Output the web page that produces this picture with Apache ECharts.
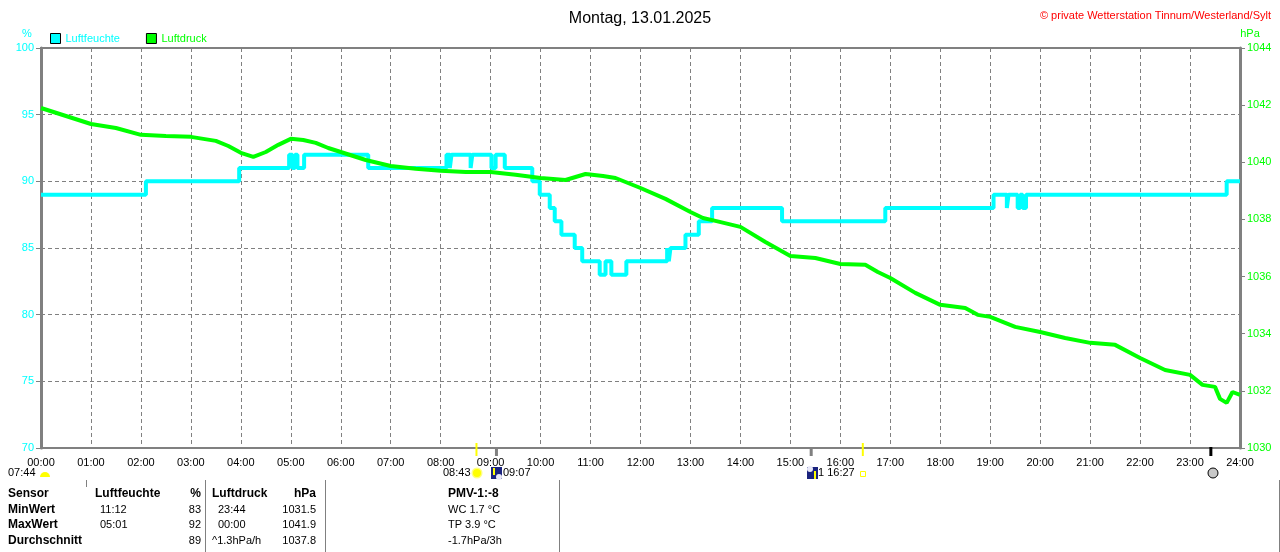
<!DOCTYPE html>
<html lang="de">
<head>
    <meta charset="UTF-8">
    <title>Luftfeuchte / Luftdruck</title>
    <script src="https://cdn.jsdelivr.net/npm/echarts@6/dist/echarts.min.js"></script>
    <style>
        html, body { margin: 0; padding: 0; background: #fff; }
    </style>
</head>
<body>
<div id="main" style="width: 1280px; height: 552px;"></div>
</body>
<script>
    // ---- Daten ----
    var hourLabels = ['00:00', '01:00', '02:00', '03:00', '04:00', '05:00', '06:00', '07:00', '08:00', '09:00',
        '10:00', '11:00', '12:00', '13:00', '14:00', '15:00', '16:00', '17:00', '18:00', '19:00',
        '20:00', '21:00', '22:00', '23:00', '24:00']
    var humTicks = [70, 75, 80, 85, 90, 95, 100]
    var pressTicks = [1030, 1032, 1034, 1036, 1038, 1040, 1042, 1044]

    // Luftfeuchte: Minute des Tages, ab der der Wert gilt
    var humMinutes = [0, 126, 238, 298, 302, 305, 308, 316, 393, 487, 491, 493, 516, 518, 541, 546, 557, 590, 599,
        611, 617, 625, 641, 650, 671, 678, 685, 703, 752, 754, 756, 774, 790, 806, 890, 1014, 1144, 1160, 1162,
        1173, 1176, 1179, 1183, 1424, 1440]
    var humValues = [89, 90, 91, 92, 91, 92, 91, 92, 91, 92, 91, 92, 91, 92, 91, 92, 91, 90, 89,
        88, 87, 86, 85, 84, 83, 84, 83, 84, 85, 84, 85, 86, 87, 88, 87, 88, 89, 88, 89,
        88, 89, 88, 89, 90, 90]

    // Luftdruck
    var pressMinutes = [0, 30, 60, 90, 120, 150, 180, 210, 225, 240, 255, 270, 285, 300, 315, 330, 345, 360, 390, 420,
        450, 480, 510, 540, 570, 600, 630, 654, 675, 690, 720, 750, 780, 795, 810, 840, 870, 900, 930, 960,
        990, 1005, 1020, 1050, 1080, 1110, 1125, 1140, 1170, 1200, 1230, 1260, 1290, 1320, 1350, 1380, 1395, 1410,
        1416, 1424, 1431, 1440]
    var pressValues = [1041.90, 1041.62, 1041.34, 1041.20, 1040.96, 1040.92, 1040.89, 1040.75, 1040.57, 1040.33,
        1040.19, 1040.36, 1040.61, 1040.82, 1040.78, 1040.68, 1040.50, 1040.36, 1040.08, 1039.87,
        1039.77, 1039.70, 1039.66, 1039.66, 1039.56, 1039.45, 1039.38, 1039.59, 1039.52, 1039.45,
        1039.10, 1038.72, 1038.26, 1038.05, 1037.95, 1037.74, 1037.21, 1036.72, 1036.65, 1036.44,
        1036.41, 1036.16, 1035.95, 1035.43, 1035.01, 1034.90, 1034.66, 1034.59, 1034.24, 1034.06,
        1033.85, 1033.68, 1033.61, 1033.15, 1032.73, 1032.56, 1032.21, 1032.14, 1031.72, 1031.58,
        1031.96, 1031.86]

    // Sonne / Mond Markierungen (Minute, Farbe)
    var astroMinutes = [523, 547, 925, 987, 1405]
    var astroColors = ['#ffff00', '#808080', '#808080', '#ffff00', '#000000']

    // Tabelle
    var tableRows = ['Sensor', 'MinWert', 'MaxWert', 'Durchschnitt']
    var humTimes = ['', '11:12', '05:01', '']
    var humStats = ['%', '83', '92', '89']
    var pressTimes = ['Luftdruck', '23:44', '00:00', '^1.3hPa/h']
    var pressStats = ['hPa', '1031.5', '1041.9', '1037.8']
    var pmvLines = ['PMV-1:-8', 'WC 1.7 °C', 'TP 3.9 °C', '-1.7hPa/3h']

    var CYAN = '#00ffff'
    var GREEN = '#00ff00'
    var GRAY = '#808080'
    var FONT = 'Liberation Sans'

    function pairs(xs, ys) {
        var out = []
        for (var i = 0; i < xs.length; i++) out.push([xs[i], ys[i]])
        return out
    }

    var myChart = echarts.init(document.getElementById('main'))

    var option = {
        animation: false,
        backgroundColor: '#fff',
        textStyle: { fontFamily: FONT },
        title: [
            {
                text: 'Montag, 13.01.2025',
                left: 'center',
                top: 6,
                textStyle: { color: '#000', fontSize: 16, fontWeight: 'normal', fontFamily: FONT }
            },
            {
                text: '© private Wetterstation Tinnum/Westerland/Sylt',
                right: 4,
                top: 5,
                textStyle: { color: '#ff0000', fontSize: 11, fontWeight: 'normal', fontFamily: FONT }
            }
        ],
        legend: {
            left: 50,
            top: 33,
            padding: 0,
            itemWidth: 10,
            itemHeight: 10,
            itemGap: 26,
            icon: 'rect',
            itemStyle: { borderColor: '#000', borderWidth: 1 },
            textStyle: { fontSize: 11, fontFamily: FONT },
            data: [
                { name: 'Luftfeuchte', textStyle: { color: CYAN } },
                { name: 'Luftdruck', textStyle: { color: GREEN } }
            ]
        },
        grid: {
            left: 41,
            right: 40,
            top: 48,
            bottom: 104,
            show: true,
            borderColor: GRAY,
            borderWidth: 2,
            containLabel: false
        },
        xAxis: {
            type: 'value',
            min: 0,
            max: 1440,
            interval: 60,
            axisLine: { show: true, lineStyle: { color: GRAY, width: 2 } },
            axisTick: { show: false },
            axisLabel: {
                color: '#000',
                fontSize: 11,
                fontFamily: FONT,
                margin: 9,
                formatter: function (v) { return hourLabels[Math.round(v / 60)] }
            },
            splitLine: { show: true, lineStyle: { color: GRAY, width: 1, type: [4, 3] } }
        },
        yAxis: [
            {
                type: 'value',
                position: 'left',
                min: humTicks[0],
                max: humTicks[humTicks.length - 1],
                interval: 5,
                axisLine: { show: true, lineStyle: { color: GRAY, width: 3 } },
                axisTick: { show: true, length: 5, lineStyle: { color: GRAY, width: 1 } },
                axisLabel: { color: CYAN, fontSize: 11, fontFamily: FONT, margin: 7 },
                splitLine: { show: true, lineStyle: { color: GRAY, width: 1, type: [4, 3] } }
            },
            {
                type: 'value',
                position: 'right',
                min: pressTicks[0],
                max: pressTicks[pressTicks.length - 1],
                interval: 2,
                axisLine: { show: true, lineStyle: { color: GRAY, width: 3 } },
                axisTick: { show: true, length: 5, lineStyle: { color: GRAY, width: 1 } },
                axisLabel: {
                    color: GREEN, fontSize: 11, fontFamily: FONT, margin: 7,
                    formatter: function (v) { return String(v) }
                },
                splitLine: { show: false }
            }
        ],
        series: [
            {
                name: 'Luftfeuchte',
                type: 'line',
                yAxisIndex: 0,
                step: 'end',
                showSymbol: false,
                itemStyle: { color: CYAN },
                lineStyle: { color: CYAN, width: 4 },
                data: pairs(humMinutes, humValues)
            },
            {
                name: 'Luftdruck',
                type: 'line',
                yAxisIndex: 1,
                showSymbol: false,
                itemStyle: { color: GREEN },
                lineStyle: { color: GREEN, width: 4 },
                data: pairs(pressMinutes, pressValues)
            }
        ]
    };
    myChart.setOption(option);

    // ---- Zusatz: Einheiten, Sonne/Mond, Tabelle ----
    var g = []
    function txt(x, y, s, opt) {
        opt = opt || {}
        g.push({
            type: 'text', x: x, y: y, z: 10,
            style: {
                text: s, fill: opt.color || '#000', fontSize: opt.size || 11,
                fontFamily: FONT, fontWeight: opt.bold ? 'bold' : 'normal',
                align: opt.align || 'left', verticalAlign: 'middle'
            }
        })
    }
    function line(x1, y1, x2, y2, color, w) {
        g.push({ type: 'line', z: 10, shape: { x1: x1, y1: y1, x2: x2, y2: y2 }, style: { stroke: color, lineWidth: w || 1 } })
    }

    txt(27, 34, '%', { color: CYAN, align: 'center' })
    txt(1250, 34, 'hPa', { color: GREEN, align: 'center' })

    var yAxisPx = myChart.convertToPixel({ yAxisIndex: 0 }, 70)
    for (var i = 0; i < astroMinutes.length; i++) {
        var px = myChart.convertToPixel({ xAxisIndex: 0 }, astroMinutes[i])
        var isSun = astroColors[i] === '#ffff00'
        line(px, yAxisPx - (isSun ? 5 : 1), px, yAxisPx + 8, astroColors[i], isSun ? 2 : 3)
    }

    // Symbole unter der Achse
    txt(8, 473, '07:44')
    g.push({ type: 'sector', z: 10, shape: { cx: 45, cy: 477, r0: 0, r: 5, startAngle: Math.PI, endAngle: 2 * Math.PI }, style: { fill: '#ffff00' } })
    txt(443, 473, '08:43')
    g.push({ type: 'circle', z: 10, shape: { cx: 477, cy: 473, r: 5.5 }, style: { fill: '#ffff80' } })
    g.push({ type: 'circle', z: 11, shape: { cx: 477, cy: 473, r: 4 }, style: { fill: '#ffff00' } })
    g.push({ type: 'rect', z: 10, shape: { x: 491, y: 467, width: 11, height: 12 }, style: { fill: '#1a237e' } })
    g.push({ type: 'circle', z: 11, shape: { cx: 499, cy: 477, r: 3 }, style: { fill: '#e8e8f8' } })
    line(494, 468, 494, 475, '#ffff00', 2)
    txt(503, 473, '09:07')
    g.push({ type: 'rect', z: 10, shape: { x: 807, y: 467, width: 11, height: 12 }, style: { fill: '#1a237e' } })
    g.push({ type: 'circle', z: 11, shape: { cx: 810, cy: 469, r: 3 }, style: { fill: '#e8e8f8' } })
    line(815, 471, 815, 479, '#ffff00', 2)
    txt(818, 473, '1 16:27')
    g.push({ type: 'rect', z: 10, shape: { x: 860.5, y: 471.5, width: 5, height: 5 }, style: { fill: '#fff', stroke: '#ffff00', lineWidth: 1 } })
    g.push({ type: 'circle', z: 10, shape: { cx: 1213, cy: 473, r: 5 }, style: { fill: '#c8c8c8', stroke: '#000', lineWidth: 1 } })

    // Tabelle
    var rowY = [494, 510, 525, 541]
    for (var r = 0; r < 4; r++) {
        txt(8, rowY[r], tableRows[r], { bold: true, size: 12 })
        if (r === 0) {
            txt(95, rowY[r], 'Luftfeuchte', { bold: true, size: 12 })
        } else {
            txt(100, rowY[r], humTimes[r])
        }
        txt(201, rowY[r], humStats[r], { bold: r === 0, size: r === 0 ? 12 : 11, align: 'right' })
        txt(r === 0 || r === 3 ? 212 : 218, rowY[r], pressTimes[r], { bold: r === 0, size: r === 0 ? 12 : 11 })
        txt(316, rowY[r], pressStats[r], { bold: r === 0, size: r === 0 ? 12 : 11, align: 'right' })
        txt(448, rowY[r], pmvLines[r], { bold: r === 0, size: r === 0 ? 12 : 11 })
    }
    line(205.5, 480, 205.5, 552, GRAY, 1)
    line(325.5, 480, 325.5, 552, GRAY, 1)
    line(559.5, 480, 559.5, 552, GRAY, 1)
    line(1279.5, 480, 1279.5, 552, GRAY, 1)
    line(86.5, 480, 86.5, 487, GRAY, 1)

    myChart.setOption({ graphic: g })
</script>
</html>
